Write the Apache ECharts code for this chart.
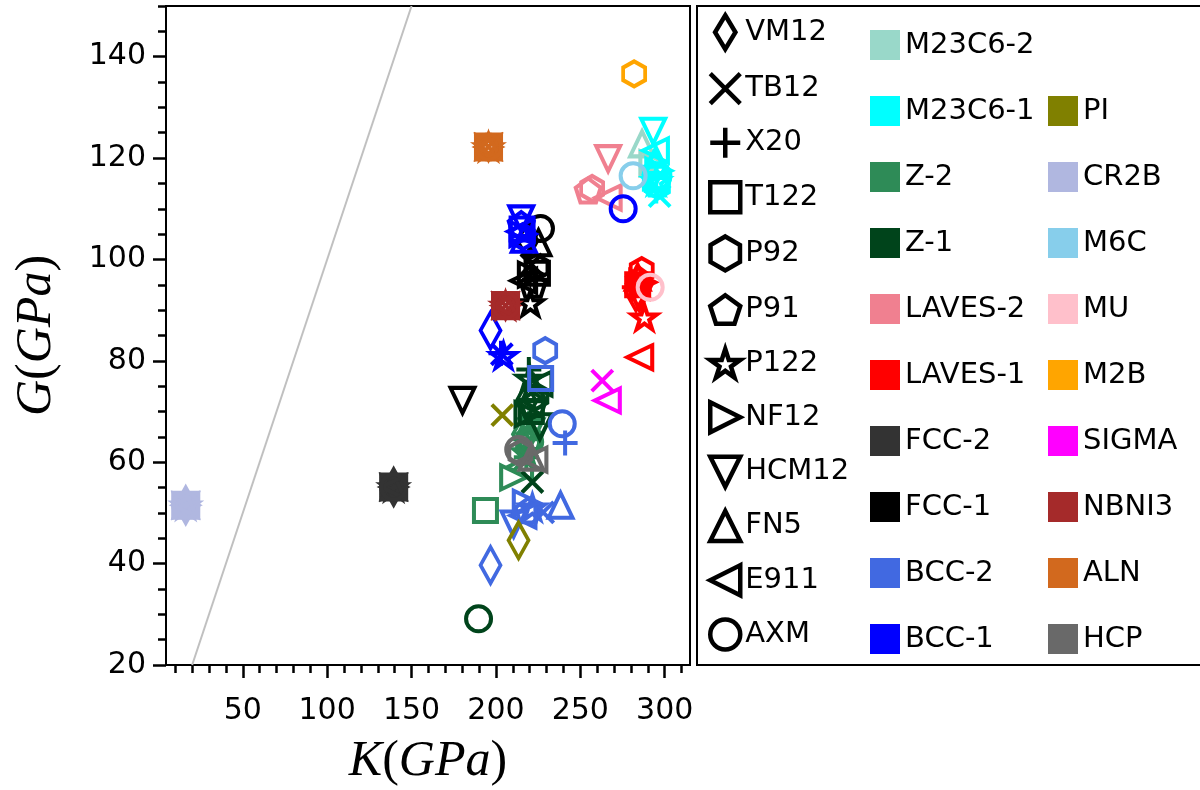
<!DOCTYPE html>
<html>
<head>
<meta charset="utf-8">
<script src="https://cdn.jsdelivr.net/npm/echarts@6/dist/echarts.min.js"></script>
<style>html,body{margin:0;padding:0;background:#fff}#c{width:1200px;height:790px}</style>
</head>
<body>
<div id="c"></div>
<script>
// ---- data ----
const steels = ['VM12','TB12','X20','T122','P92','P91','P122','NF12','HCM12','FN5','E911','AXM'];
const phasesCol1 = ['M23C6-2','M23C6-1','Z-2','Z-1','LAVES-2','LAVES-1','FCC-2','FCC-1','BCC-2','BCC-1'];
const phasesCol2 = ['PI','CR2B','M6C','MU','M2B','SIGMA','NBNI3','ALN','HCP'];
const xTickLabels = [50,100,150,200,250,300];
const yTickLabels = [20,40,60,80,100,120,140];
const xMinorTicks = [10,20,30,40,60,70,80,90,110,120,130,140,160,170,180,190,210,220,230,240,260,270,280,290,310];
const yMinorTicks = [25,30,35,45,50,55,65,70,75,85,90,95,105,110,115,125,130,135,145,150];
const guideLine = [[20,20],[150,150]]; // G = K

// [K, G, steel]
const M23C6_2 = [[286.6,122.8,'FN5'],[293,119,'NF12']];
const M23C6_1 = [[293.2,125.3,'HCM12'],[294.5,121.5,'E911'],[295,119.5,'FN5'],[294,118,'VM12'],[296.5,117.5,'NF12'],[294.5,116,'T122'],[295.5,115,'P91'],[296,114.5,'P92'],[295,113.5,'X20'],[297,112.5,'TB12'],[295,115.5,'P122'],[296,116.5,'AXM']];
const Z_2 = [[193.8,50.5,'T122'],[210.5,57,'NF12'],[216,65.5,'VM12'],[219,63.5,'P92'],[217,60.5,'TB12'],[218,61,'X20'],[220,65,'P91'],[218,62,'P122'],[221,66,'HCM12'],[219,67,'FN5'],[214,59,'E911'],[220,64,'AXM']];
const Z_1 = [[189.7,29.1,'AXM'],[221.6,56.1,'TB12'],[219.5,78.3,'X20'],[220,76.5,'P122'],[224,73,'P92'],[222,71.5,'P91'],[226,67,'HCM12'],[222.5,74.5,'FN5'],[219,69.5,'NF12'],[225.5,75.5,'E911'],[221,70,'T122'],[218,72,'VM12']];
const LAVES_2 = [[266.5,119.9,'HCM12'],[254.7,113.6,'P91'],[257,114,'P92'],[266.5,112.2,'E911']];
const LAVES_1 = [[286.4,97.8,'P92'],[285,96,'P91'],[284,95,'T122'],[282,94.5,'X20'],[286,94,'TB12'],[283,93.5,'VM12'],[287,95.5,'NF12'],[285,92.5,'HCM12'],[284,96.5,'FN5'],[288,88.6,'P122'],[285.2,80.7,'E911']];
const FCC_2 = steels.map(s => [139.4,55.1,s]);
const FCC_1 = [[226.4,106.1,'AXM'],[225.2,103.3,'FN5'],[218.7,103.7,'VM12'],[224.6,97.3,'T122'],[216.4,95.8,'E911'],[220.4,91.4,'P122'],[180.2,72.2,'HCM12'],[224,98.5,'P92'],[222,95,'P91'],[221,97,'NF12'],[223,96,'X20'],[221,99,'TB12']];
const BCC_2 = [[229.2,82,'P92'],[226.5,76.5,'T122'],[239.3,67.6,'AXM'],[241,63.8,'X20'],[196.8,39.7,'VM12'],[238.3,51.5,'FN5'],[221.6,51.1,'P122'],[228,50.1,'TB12'],[219,50.5,'P91'],[210.5,47.8,'HCM12'],[216,49.5,'E911'],[218,52,'NF12']];
const BCC_1 = [[196.8,86,'VM12'],[203.5,81.3,'TB12'],[203,81.5,'X20'],[204.5,81,'P122'],[275.4,110,'AXM'],[215.5,106,'T122'],[216,104.5,'P92'],[215,107,'P91'],[216,105,'NF12'],[215,108,'HCM12'],[216.5,104,'FN5'],[214.5,105.5,'E911']];
const PI = [[203.8,69.3,'TB12'],[213.4,44.6,'VM12']];
const CR2B = steels.map(s => [16.2,51.5,s]);
const M6C = [[281.3,116.5,'AXM']];
const MU = [[291.4,94.5,'AXM']];
const M2B = [[281.9,136.6,'P92']];
const SIGMA = [[263,76.1,'TB12'],[266,72.2,'E911']];
const NBNI3 = ['TB12','T122','P92','P91','P122','NF12','HCM12','FN5','E911','AXM'].map(s => [205.7,90.9,s]);
const ALN = ['TB12','T122','P92','P91','P122','NF12','HCM12','FN5','E911','AXM'].map(s => [195.6,122.2,s]);
const HCP = [[214.5,61.8,'P92'],[222.5,60.5,'E911'],[213.5,62.5,'AXM'],[221,61,'FN5']];

const phaseData = {
  'M23C6-2':M23C6_2,'M23C6-1':M23C6_1,'Z-2':Z_2,'Z-1':Z_1,'LAVES-2':LAVES_2,'LAVES-1':LAVES_1,
  'FCC-2':FCC_2,'FCC-1':FCC_1,'BCC-2':BCC_2,'BCC-1':BCC_1,'PI':PI,'CR2B':CR2B,'M6C':M6C,'MU':MU,
  'M2B':M2B,'SIGMA':SIGMA,'NBNI3':NBNI3,'ALN':ALN,'HCP':HCP
};

// ---- styles ----
const phaseColors = {
  'M23C6-2':'#99d8c9','M23C6-1':'#00ffff','Z-2':'#2e8b57','Z-1':'#00441b','LAVES-2':'#f08090',
  'LAVES-1':'#ff0000','FCC-2':'#333333','FCC-1':'#000000','BCC-2':'#4169e1','BCC-1':'#0000ff',
  'PI':'#808000','CR2B':'#b0b7e0','M6C':'#87ceeb','MU':'#ffc0cb','M2B':'#ffa500','SIGMA':'#ff00ff',
  'NBNI3':'#a52a2a','ALN':'#d2691e','HCP':'#696969'
};
const steelSymbols = {
  'VM12':['path://M6,0L12,10L6,20L0,10Z',[20,36]],
  'TB12':['path://M0,0L20,20M20,0L0,20',[21,21]],
  'X20':['path://M10,0L10,20M0,10L20,10',[25,25]],
  'T122':['path://M0,0L20,0L20,20L0,20Z',[23,23]],
  'P92':['path://M100,0L186.6,50L186.6,150L100,200L13.4,150L13.4,50Z',[22,25]],
  'P91':['path://M100,0L195.1,69.1L158.8,180.9L41.2,180.9L4.9,69.1Z',[25,24]],
  'P122':['path://M100,0L122.45,69.1L195.1,69.1L136.3,111.8L158.8,180.9L100,138.2L41.2,180.9L63.7,111.8L4.9,69.1L77.55,69.1Z',[25,24]],
  'NF12':['path://M0,0L20,10L0,20Z',[25,24]],
  'HCM12':['path://M0,0L20,0L10,20Z',[24,25]],
  'FN5':['path://M10,0L20,20L0,20Z',[24,25]],
  'E911':['path://M20,0L0,10L20,20Z',[25,24]],
  'AXM':['circle',[25,25]]
};
const MW = 4;

const series = [];
series.push({
  type:'line', data:guideLine, symbol:'none', silent:true, z:1,
  lineStyle:{color:'#c0c0c0', width:2}, xAxisIndex:0, yAxisIndex:0
});
[...phasesCol1, ...phasesCol2].forEach(p => {
  series.push({
    name:p, type:'scatter', xAxisIndex:0, yAxisIndex:0, z:3,
    itemStyle:{color:'rgba(0,0,0,0)', borderColor:phaseColors[p], borderWidth:MW, opacity:1},
    emphasis:{disabled:true},
    data: phaseData[p].map(d => ({value:[d[0],d[1]], symbol:steelSymbols[d[2]][0], symbolSize:steelSymbols[d[2]][1]}))
  });
});
steels.forEach(s => {
  series.push({name:s, type:'scatter', data:[], symbol:steelSymbols[s][0],
    itemStyle:{color:'rgba(0,0,0,0)', borderColor:'#000000', borderWidth:4.5, opacity:1}});
});

const legendText = {fontSize:29, fontFamily:'DejaVu Sans', color:'#000'};
const titleStyle = {fontFamily:'Liberation Serif', fontSize:50, color:'#000',
  rich:{i:{fontStyle:'italic', fontFamily:'Liberation Serif', fontSize:50, color:'#000'},
        n:{fontFamily:'Liberation Serif', fontSize:50, color:'#000'}}};
const option = {
  animation:false,
  backgroundColor:'#fff',
  grid:{left:166, top:6, width:524, height:659, show:true, borderColor:'#000', borderWidth:2,
        backgroundColor:'#fff', outerBoundsMode:'none', containLabel:false},
  xAxis:[
    {type:'value', min:4.5, max:315, position:'bottom',
     name:'{i|K}{n|(}{i|GPa}{n|)}', nameLocation:'middle', nameGap:72, nameTextStyle:titleStyle,
     splitLine:{show:false},
     axisLine:{show:true, lineStyle:{color:'#000', width:2}},
     axisTick:{show:true, customValues:xTickLabels, length:13, lineStyle:{color:'#000', width:2.5}},
     axisLabel:{customValues:xTickLabels, fontSize:30, fontFamily:'DejaVu Sans', color:'#000', margin:31}},
    {type:'value', min:4.5, max:315, position:'bottom', gridIndex:0,
     splitLine:{show:false}, axisLine:{show:false},
     axisTick:{show:true, customValues:xMinorTicks, length:8, lineStyle:{color:'#000', width:2.5}},
     axisLabel:{show:false}}
  ],
  yAxis:[
    {type:'value', min:20, max:150, position:'left',
     name:'{i|G}{n|(}{i|GPa}{n|)}', nameLocation:'middle', nameGap:104, nameRotate:90, nameTextStyle:titleStyle,
     splitLine:{show:false},
     axisLine:{show:true, lineStyle:{color:'#000', width:2}},
     axisTick:{show:true, customValues:yTickLabels, length:13, lineStyle:{color:'#000', width:2.5}},
     axisLabel:{customValues:yTickLabels, fontSize:30, fontFamily:'DejaVu Sans', color:'#000', margin:20}},
    {type:'value', min:20, max:150, position:'left', gridIndex:0,
     splitLine:{show:false}, axisLine:{show:false},
     axisTick:{show:true, customValues:yMinorTicks, length:8, lineStyle:{color:'#000', width:2.5}},
     axisLabel:{show:false}}
  ],
  legend:[
    {orient:'vertical', left:708, top:13, itemGap:19.8, itemWidth:30, itemHeight:34, selectedMode:false,
     padding:0, textStyle:Object.assign({lineHeight:34}, legendText),
     data: steels.map(s => ({name:s, icon:steelSymbols[s][0],
       itemStyle:{color:'rgba(0,0,0,0)', borderColor:'#000000', borderWidth:4.5, opacity:1}}))},
    {orient:'vertical', left:870, top:30, itemGap:36, itemWidth:30, itemHeight:30, selectedMode:false,
     padding:0, textStyle:Object.assign({lineHeight:30}, legendText),
     data: phasesCol1.map(p => ({name:p, icon:'rect', itemStyle:{color:phaseColors[p], borderWidth:0}}))},
    {orient:'vertical', left:1048, top:96, itemGap:36, itemWidth:30, itemHeight:30, selectedMode:false,
     padding:0, textStyle:Object.assign({lineHeight:30}, legendText),
     data: phasesCol2.map(p => ({name:p, icon:'rect', itemStyle:{color:phaseColors[p], borderWidth:0}}))}
  ],
  graphic:[
    {type:'rect', shape:{x:697, y:6, width:520, height:659}, style:{fill:'none', stroke:'#000', lineWidth:2}, z:10}
  ],
  series: series
};
const chart = echarts.init(document.getElementById('c'), null, {renderer:'canvas'});
chart.setOption(option);
</script>
</body>
</html>
